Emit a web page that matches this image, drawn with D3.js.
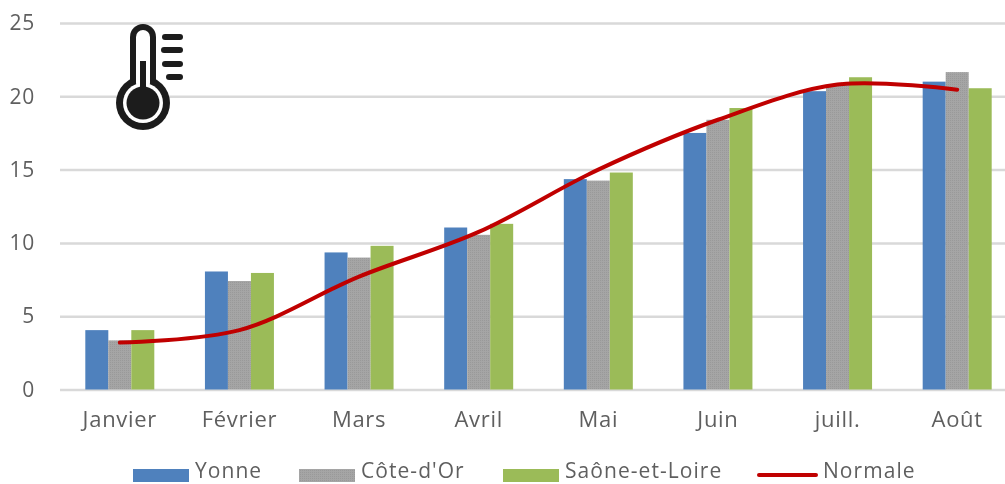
<!DOCTYPE html>
<html lang="fr">
<head>
<meta charset="utf-8">
<title>Températures</title>
<script src="https://cdn.jsdelivr.net/npm/d3@7"></script>
<style>
  html, body { margin: 0; padding: 0; background: #fff; }
  svg { display: block; }
  text { font-family: "Open Sans", "Noto Sans", sans-serif; fill: #5f5f5f; letter-spacing: 0.7px; }
  text.legend { letter-spacing: 1.05px; }
</style>
</head>
<body>
<script>
const months = ["Janvier", "Février", "Mars", "Avril", "Mai", "Juin", "juill.", "Août"];
const yonne = [4.05, 8.05, 9.35, 11.05, 14.35, 17.5, 20.35, 21];
const coteDOr = [3.35, 7.4, 9, 10.55, 14.25, 18.4, 20.8, 21.65];
const saone = [4.05, 7.95, 9.8, 11.3, 14.8, 19.2, 21.3, 20.55];
const normale = [3.2, 4.05, 7.7, 10.75, 15, 18.4, 20.8, 20.45];
const yTicks = [0, 5, 10, 15, 20, 25];
const seriesNames = ["Yonne", "Côte-d'Or", "Saône-et-Loire"];
const seriesColors = ["#4f81bd", "#a3a3a3", "#9bbb59"];
const lineName = "Normale";
const lineColor = "#c00000";

const w = 1005;
const h = 484;
const left = 60;
const bandRight = 1017;
const barW = 23;
const fontSize = 22;

const root = d3.select("body").append("svg")
  .attr("width", w)
  .attr("height", h);

const defs = root.append("defs");

// the picture is a soft, upscaled screenshot
defs.append("filter")
  .attr("id", "soft")
  .attr("filterUnits", "userSpaceOnUse")
  .attr("x", 0).attr("y", 0).attr("width", w).attr("height", h)
  .append("feGaussianBlur")
  .attr("stdDeviation", 0.55);

const svg = root.append("g").attr("filter", "url(#soft)");

const x = d3.scaleBand().domain(months).range([left, bandRight]);
const y = d3.scaleLinear().domain([0, 25]).range([389.5, 23]);
const xSeries = d3.scaleBand().domain(seriesNames)
  .range([-barW * 1.5, barW * 1.5]);

// grey bars have a slight dither in the picture
const pattern = defs.append("pattern")
  .attr("id", "dither")
  .attr("width", 2)
  .attr("height", 2)
  .attr("patternUnits", "userSpaceOnUse");
pattern.append("rect").attr("width", 2).attr("height", 2).attr("fill", "#a5a5a5");
pattern.append("rect").attr("width", 1).attr("height", 1).attr("fill", "#999");

// y axis: only gridlines and labels
const yAxis = d3.axisLeft(y)
  .tickValues(yTicks)
  .tickSize(-(w - left))
  .tickPadding(25);
const gy = svg.append("g")
  .attr("transform", "translate(" + left + ",0)")
  .call(yAxis);
gy.select(".domain").remove();
gy.selectAll("line").attr("stroke", "#d9d9d9").attr("stroke-width", 2.5);
gy.selectAll("text").attr("font-size", fontSize - 1);

// x axis labels
const xAxis = d3.axisBottom(x).tickSize(0).tickPadding(22);
const gx = svg.append("g")
  .attr("transform", "translate(0,389.5)")
  .call(xAxis);
gx.select(".domain").remove();
gx.selectAll("text").attr("font-size", fontSize);

// bars
[yonne, coteDOr, saone].forEach(function(values, s) {
  svg.append("g").selectAll("rect")
    .data(values)
    .enter()
    .append("rect")
    .attr("x", (d, i) => x(months[i]) + x.bandwidth() / 2 + xSeries(seriesNames[s]))
    .attr("y", (d) => y(d))
    .attr("width", barW)
    .attr("height", (d) => y(0) - y(d))
    .attr("fill", s === 1 ? "url(#dither)" : seriesColors[s]);
});

// smoothed line
const line = d3.line()
  .x((d, i) => x(months[i]) + x.bandwidth() / 2)
  .y((d) => y(d))
  .curve(d3.curveCatmullRom.alpha(0.5));
svg.append("path")
  .attr("d", line(normale))
  .attr("fill", "none")
  .attr("stroke", lineColor)
  .attr("stroke-width", 4)
  .attr("stroke-linecap", "round");

// legend
const legendX = [133, 299, 503];
const legendY = 475;
const legendBase = 477.8;
seriesNames.forEach(function(name, i) {
  svg.append("rect")
    .attr("x", legendX[i])
    .attr("y", legendY - 6)
    .attr("width", 56)
    .attr("height", 13)
    .attr("fill", i === 1 ? "url(#dither)" : seriesColors[i]);
  svg.append("text")
    .attr("class", "legend")
    .attr("x", legendX[i] + 62)
    .attr("y", legendBase)
    .attr("font-size", fontSize - 1)
    .text(name);
});
svg.append("line")
  .attr("x1", 759).attr("x2", 816)
  .attr("y1", legendY).attr("y2", legendY)
  .attr("stroke", lineColor)
  .attr("stroke-width", 4)
  .attr("stroke-linecap", "round");
svg.append("text")
  .attr("class", "legend")
  .attr("x", 823)
  .attr("y", legendBase)
  .attr("font-size", fontSize - 1)
  .text(lineName);

// thermometer icon
const dark = "#1c1c1c";
const icon = svg.append("g");
icon.append("circle").attr("cx", 143).attr("cy", 103).attr("r", 27).attr("fill", dark);
icon.append("rect").attr("x", 130).attr("y", 24).attr("width", 26).attr("height", 70).attr("rx", 13).attr("fill", dark);
icon.append("circle").attr("cx", 143).attr("cy", 103).attr("r", 20).attr("fill", "#fff");
icon.append("rect").attr("x", 136).attr("y", 30).attr("width", 14).attr("height", 60).attr("rx", 7).attr("fill", "#fff");
icon.append("circle").attr("cx", 143).attr("cy", 103).attr("r", 16.5).attr("fill", dark);
icon.append("rect").attr("x", 140).attr("y", 61).attr("width", 6).attr("height", 30).attr("fill", dark);
icon.selectAll("line")
  .data([[165, 37], [164, 50], [165, 64], [169, 77]])
  .enter()
  .append("line")
  .attr("x1", (d) => d[0])
  .attr("x2", 180)
  .attr("y1", (d) => d[1])
  .attr("y2", (d) => d[1])
  .attr("stroke", dark)
  .attr("stroke-width", 6)
  .attr("stroke-linecap", "round");
</script>
</body>
</html>
